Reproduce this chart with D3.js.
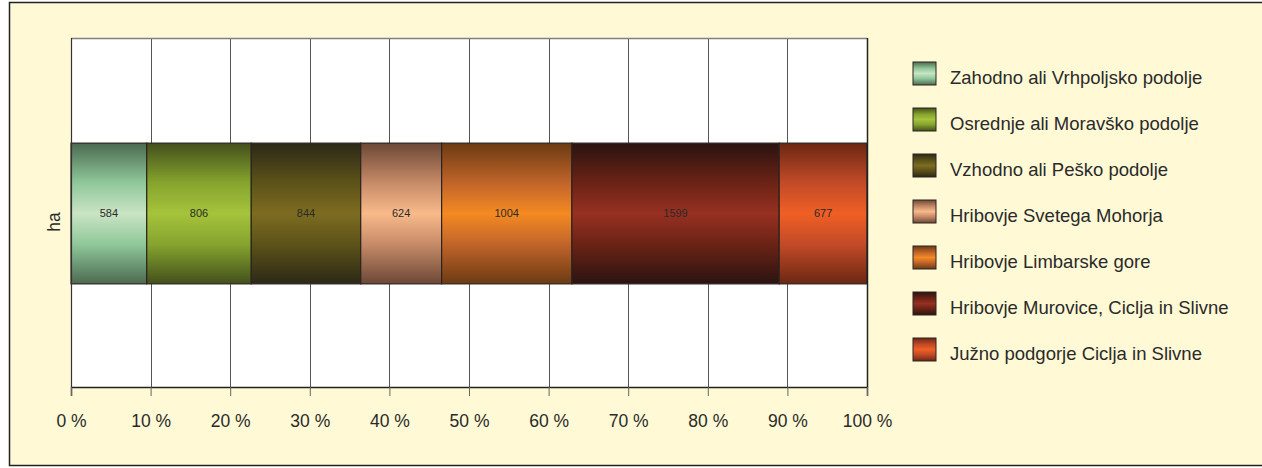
<!DOCTYPE html>
<html>
<head>
<meta charset="utf-8">
<script src="https://cdn.jsdelivr.net/npm/d3@7"></script>
<style>
  html, body { margin: 0; padding: 0; background: #fff; }
  svg { display: block; font-family: "Liberation Sans", Arial, sans-serif; }
</style>
</head>
<body>
<svg id="chart" width="1262" height="468"></svg>
<script>
// Land area (ha) by landscape unit
const categories = ["ha"];
const seriesNames = [
  "Zahodno ali Vrhpoljsko podolje",
  "Osrednje ali Moravško podolje",
  "Vzhodno ali Peško podolje",
  "Hribovje Svetega Mohorja",
  "Hribovje Limbarske gore",
  "Hribovje Murovice, Ciclja in Slivne",
  "Južno podgorje Ciclja in Slivne"
];
const seriesValues = [584, 806, 844, 624, 1004, 1599, 677];
const tickValues = [0, 0.1, 0.2, 0.3, 0.4, 0.5, 0.6, 0.7, 0.8, 0.9, 1.0];
const tickLabels = ["0 %", "10 %", "20 %", "30 %", "40 %", "50 %", "60 %", "70 %", "80 %", "90 %", "100 %"];

// Each series is shaded like a cylinder: [edge, shoulder, centre]
const shades = [
  ["#4c6a50", "#8fc79a", "#cae4c3"],
  ["#434f1b", "#86a42e", "#a5c33b"],
  ["#2c2817", "#5c5219", "#7d6c21"],
  ["#6c4836", "#c68a68", "#f8ba8a"],
  ["#6c3a12", "#c0642a", "#f58a22"],
  ["#2b1311", "#6a2315", "#973022"],
  ["#6c2712", "#c24a28", "#f05f24"]
];

const svg = d3.select("#chart");
const W = 1262;

// Panel background and frame
svg.append("rect")
  .attr("x", 9.5).attr("y", 2.5)
  .attr("width", W + 20).attr("height", 463)
  .attr("fill", "#fff9d6")
  .attr("stroke", "#222").attr("stroke-width", 1.5);

const plot = { left: 71, right: 867, top: 38, bottom: 387 };

const x = d3.scaleLinear().domain([0, 1]).range([plot.left, plot.right]);
const y = d3.scaleBand().domain(categories)
  .range([plot.top + 1, plot.bottom + 1])
  .paddingInner(0).paddingOuter(0.74);

// Gradients
const defs = svg.append("defs");
shades.forEach((s, i) => {
  const g = defs.append("linearGradient")
    .attr("id", "grad" + i)
    .attr("x1", 0).attr("y1", 0).attr("x2", 0).attr("y2", 1);
  [[0, s[0]], [0.28, s[1]], [0.5, s[2]], [0.72, s[1]], [1, s[0]]]
    .forEach(([o, c]) => g.append("stop").attr("offset", o).attr("stop-color", c));
});

// Plot area
svg.append("rect")
  .attr("x", plot.left).attr("y", plot.top)
  .attr("width", plot.right - plot.left).attr("height", plot.bottom - plot.top)
  .attr("fill", "#fff");

// Vertical gridlines
svg.append("g")
  .selectAll("line")
  .data(tickValues.slice(1, -1))
  .join("line")
  .attr("x1", d => Math.round(x(d)) + 0.5).attr("x2", d => Math.round(x(d)) + 0.5)
  .attr("y1", plot.top).attr("y2", plot.bottom)
  .attr("stroke", "#555").attr("stroke-width", 1);

// Stacked percentage segments
const total = d3.sum(seriesValues);
const cum = d3.cumsum(seriesValues);
const segs = seriesValues.map((v, i) => ({
  name: seriesNames[i], value: v, i,
  x0: (cum[i] - v) / total, x1: cum[i] / total
}));

const by = y("ha"), bh = y.bandwidth();

svg.append("g")
  .selectAll("rect")
  .data(segs)
  .join("rect")
  .attr("x", d => x(d.x0)).attr("y", by)
  .attr("width", d => x(d.x1) - x(d.x0)).attr("height", bh)
  .attr("fill", d => `url(#grad${d.i})`)
  .attr("stroke", "#2a2420").attr("stroke-width", 1.2);

svg.append("g")
  .selectAll("text")
  .data(segs)
  .join("text")
  .attr("x", d => (x(d.x0) + x(d.x1)) / 2)
  .attr("y", by + bh / 2)
  .attr("dy", "0.35em")
  .attr("text-anchor", "middle")
  .attr("font-size", 11)
  .attr("fill", "#2a2a2a")
  .text(d => d.value);

// Frame of the plot area
svg.append("line")
  .attr("x1", plot.left).attr("x2", plot.right)
  .attr("y1", plot.top + 0.5).attr("y2", plot.top + 0.5)
  .attr("stroke", "#808080").attr("stroke-width", 1.5);
svg.append("line")
  .attr("x1", plot.left + 0.5).attr("x2", plot.left + 0.5)
  .attr("y1", plot.top).attr("y2", plot.bottom)
  .attr("stroke", "#333").attr("stroke-width", 1.2);
svg.append("line")
  .attr("x1", plot.right + 0.5).attr("x2", plot.right + 0.5)
  .attr("y1", plot.top).attr("y2", plot.bottom)
  .attr("stroke", "#222").attr("stroke-width", 1.5);

// X axis
const xAxis = d3.axisBottom(x)
  .tickValues(tickValues)
  .tickFormat((d, i) => tickLabels[i])
  .tickSize(9)
  .tickPadding(19);
const ax = svg.append("g")
  .attr("transform", `translate(0,${plot.bottom})`)
  .call(xAxis);
ax.select(".domain").attr("stroke", "#222").attr("stroke-width", 1.5);
ax.selectAll(".tick line").attr("stroke", "#666");
ax.selectAll(".tick text")
  .attr("font-size", 17.5)
  .attr("font-family", "'Liberation Sans', Arial, sans-serif")
  .attr("fill", "#2a2a2a");

// Y axis label
svg.append("text")
  .attr("transform", "translate(60,222) rotate(-90)")
  .attr("text-anchor", "middle")
  .attr("font-size", 17.5)
  .attr("fill", "#2a2a2a")
  .text(categories[0]);

// Legend
const legend = svg.append("g").attr("transform", "translate(913,62)");
const rows = legend.selectAll("g")
  .data(seriesNames)
  .join("g")
  .attr("transform", (d, i) => `translate(0,${i * 46})`);
rows.append("rect")
  .attr("width", 23).attr("height", 23)
  .attr("fill", (d, i) => `url(#grad${i})`)
  .attr("stroke", "#2a2420").attr("stroke-width", 1);
rows.append("text")
  .attr("x", 37).attr("y", 22)
  .attr("font-size", 18.5)
  .attr("fill", "#2a2a2a")
  .text(d => d);
</script>
</body>
</html>
